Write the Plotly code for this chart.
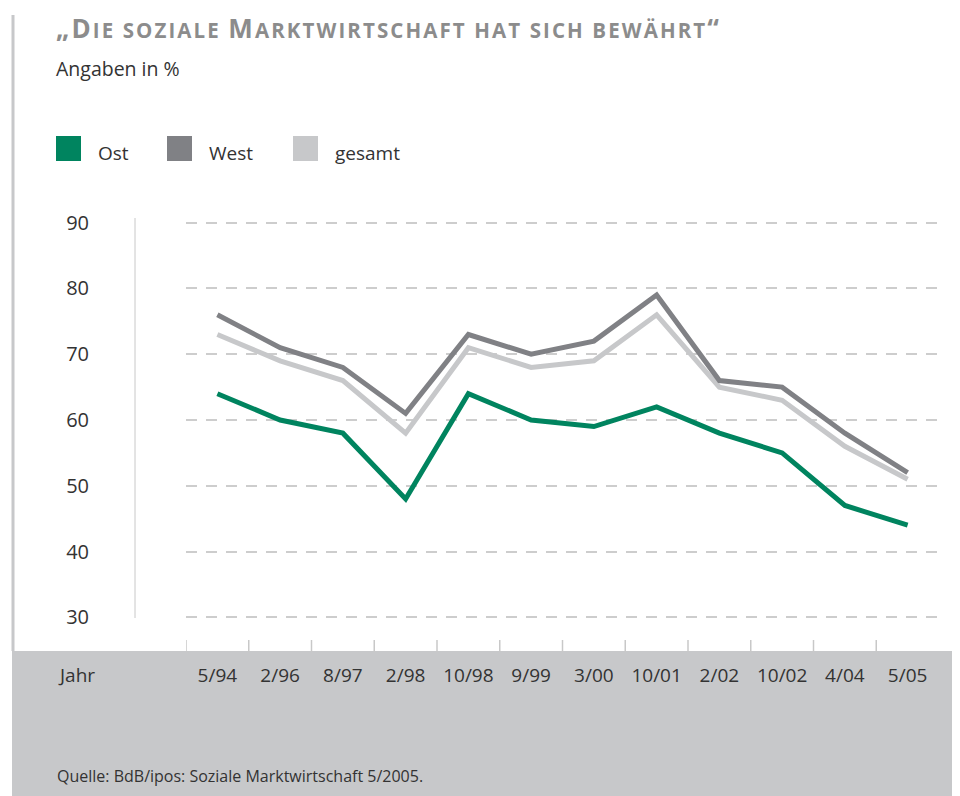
import plotly.graph_objects as go

# ---------------- data ----------------
categories = ["5/94", "2/96", "8/97", "2/98", "10/98", "9/99", "3/00", "10/01", "2/02", "10/02", "4/04", "5/05"]
ost = [64, 60, 58, 48, 64, 60, 59, 62, 58, 55, 47, 44]
west = [76, 71, 68, 61, 73, 70, 72, 79, 66, 65, 58, 52]
gesamt = [73, 69, 66, 58, 71, 68, 69, 76, 65, 63, 56, 51]
series_names = ["Ost", "West", "gesamt"]
y_ticks = [30, 40, 50, 60, 70, 80, 90]

# ---------------- styles ----------------
colors = {"Ost": "#00845F", "West": "#808185", "gesamt": "#C7C8CA"}
FONT = "Open Sans"
TEXT = "#333333"
BAND = "#C7C8CA"

OFF = 8  # page body margin
W, H = 952, 788
ML, MR, MT, MB = 178, 21, 210, 144
PW, PH = W - ML - MR, H - MT - MB


def px(x):
    """page x pixel -> paper coordinate"""
    return (x - OFF - ML) / PW


def py(y):
    """page y pixel -> paper coordinate"""
    return (H - MB - (y - OFF)) / PH


fig = go.Figure()
values = {"Ost": ost, "West": west, "gesamt": gesamt}
for name in ["gesamt", "West", "Ost"]:
    fig.add_trace(go.Scatter(
        x=categories, y=values[name], mode="lines", name=name,
        line=dict(color=colors[name], width=5), showlegend=False,
        hoverinfo="skip"))

shapes = []
# grey footer band
shapes.append(dict(type="rect", xref="paper", yref="paper",
                   x0=px(12), x1=px(970), y0=py(800), y1=py(651),
                   fillcolor=BAND, line=dict(width=0), layer="below"))
# left vertical rule
shapes.append(dict(type="line", xref="paper", yref="paper",
                   x0=px(13), x1=px(13), y0=py(15), y1=py(651),
                   line=dict(color=BAND, width=3)))
# y axis rule
shapes.append(dict(type="line", xref="paper", yref="paper",
                   x0=px(135), x1=px(135), y0=py(218), y1=py(618),
                   line=dict(color="#C8C8C8", width=1)))
# x ticks at category boundaries
for i in range(len(categories)):
    shapes.append(dict(type="line", xref="x", yref="paper",
                       x0=i - 0.5, x1=i - 0.5, y0=0, y1=py(640),
                       line=dict(color="#C8C8C8", width=1.5)))

annotations = []
# title (small caps emulation)
ls = "letter-spacing:2.1px"
sc = f"font-size:20.5px;{ls}"
annotations.append(dict(
    xref="paper", yref="paper", x=px(54), y=py(28), xanchor="left", yanchor="middle",
    showarrow=False,
    text=f"<b><span style='{ls}'>„D</span><span style='{sc}'>IE SOZIALE </span>"
         f"<span style='{ls}'>M</span>"
         f"<span style='{sc}'>ARKTWIRTSCHAFT HAT SICH BEWÄHRT</span>“</b>",
    font=dict(family=FONT, size=26, color="#8C8C8C")))
annotations.append(dict(
    xref="paper", yref="paper", x=px(54), y=py(68), xanchor="left", yanchor="middle",
    showarrow=False, text="Angaben in %", font=dict(family=FONT, size=19.5, color=TEXT)))
# legend
legend_sq_x = [56, 167, 293]
for name, sx in zip(series_names, legend_sq_x):
    shapes.append(dict(type="rect", xref="paper", yref="paper",
                       x0=px(sx), x1=px(sx + 25), y0=py(161), y1=py(136),
                       fillcolor=colors[name], line=dict(width=0)))
    annotations.append(dict(
        xref="paper", yref="paper", x=px(sx + 40), y=py(153), xanchor="left", yanchor="middle",
        showarrow=False, text=name, font=dict(family=FONT, size=19, color=TEXT)))
# Jahr and source
annotations.append(dict(
    xref="paper", yref="paper", x=px(56), y=py(675), xanchor="left", yanchor="middle",
    showarrow=False, text="Jahr", font=dict(family=FONT, size=19, color=TEXT)))
annotations.append(dict(
    xref="paper", yref="paper", x=px(55), y=py(776), xanchor="left", yanchor="middle",
    showarrow=False, text="Quelle: BdB/ipos: Soziale Marktwirtschaft 5/2005.",
    font=dict(family=FONT, size=16, color=TEXT)))

y_lo = 30 - (652 - 617.3) / 6.577
y_hi = 90 + (222.7 - 218) / 6.577

fig.update_layout(
    width=W, height=H, margin=dict(l=ML, r=MR, t=MT, b=MB),
    paper_bgcolor="white", plot_bgcolor="rgba(0,0,0,0)",
    shapes=shapes, annotations=annotations, showlegend=False,
    xaxis=dict(type="category", range=[-0.5, len(categories) - 0.5],
               showgrid=False, zeroline=False, showline=False, ticks="",
               tickfont=dict(family=FONT, size=19, color=TEXT),
               ticklabelstandoff=10),
    yaxis=dict(range=[y_lo, y_hi], tickvals=y_ticks, showgrid=True,
               gridcolor="#CDCDCD", griddash="11px,9px", gridwidth=1.5,
               zeroline=False, showline=False, ticks="",
               tickfont=dict(family=FONT, size=20, color=TEXT),
               ticklabelstandoff=96),
)

fig.write_html("out.html")
